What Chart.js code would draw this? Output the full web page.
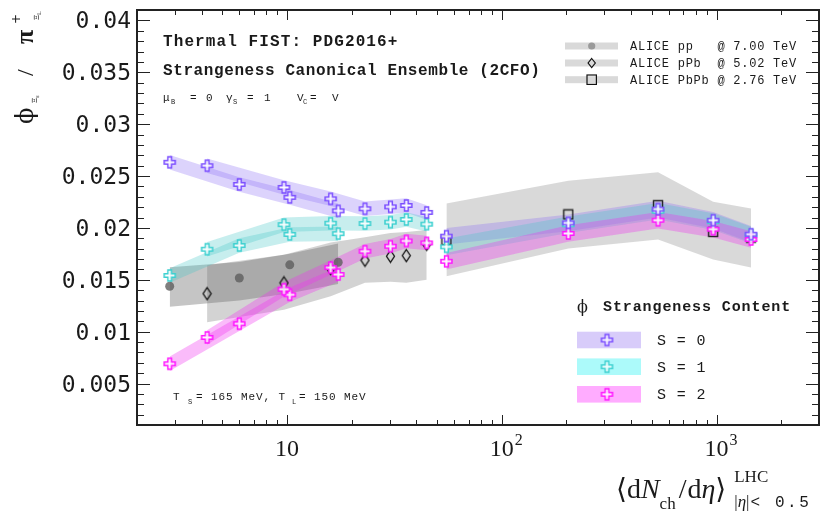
<!DOCTYPE html>
<html>
<head>
<meta charset="utf-8">
<script src="https://cdn.jsdelivr.net/npm/chart.js@4.4.0/dist/chart.umd.min.js"></script>
<style>
html, body { margin: 0; padding: 0; background: #fff; }
#wrap { position: relative; width: 825px; height: 511px; }
</style>
</head>
<body>
<div id="wrap"><canvas id="phiChart" width="825" height="511"></canvas></div>
<script>
// <dNch/deta> of the measured classes
const ppX = [2.84, 5.99, 10.29, 17.3];
const pPbX = [4.24, 9.67, 15.96, 23.05, 30.3, 35.9, 44.7];
const PbPbX = [55.2, 204, 534, 964, 1447];

// ALICE phi/pi data with systematic band
const ppData = [0.01437, 0.01517, 0.01644, 0.01669];
const ppSysLow = [0.0124, 0.0130, 0.0137, 0.0146];
const ppSysHigh = [0.0162, 0.0167, 0.0175, 0.0185];
const pPbData = [0.01366, 0.01470, 0.01608, 0.01688, 0.01727, 0.01733, 0.01842];
const pPbSysLow = [0.0109, 0.0121, 0.0134, 0.0147, 0.0148, 0.0147, 0.0150];
const pPbSysHigh = [0.0164, 0.0174, 0.0186, 0.0191, 0.0195, 0.0196, 0.0198];
const PbPbData = [0.01881, 0.02130, 0.02219, 0.01961, 0.01907];
const PbPbSysLow = [0.01533, 0.01801, 0.01888, 0.01695, 0.01617];
const PbPbSysHigh = [0.02236, 0.02454, 0.02535, 0.02251, 0.02187];

// Thermal-FIST SCE, S = 0
const s0pp = [0.02632, 0.02419, 0.02294, 0.02164];
const s0pPb = [0.02599, 0.02390, 0.02280, 0.02184, 0.02203, 0.02216, 0.02149];
const s0PbPb = [0.0192, 0.02048, 0.02181, 0.02074, 0.01939];
// S = 1
const s1pp = [0.01541, 0.01830, 0.01937, 0.01944];
const s1pPb = [0.01794, 0.02031, 0.02045, 0.02042, 0.02055, 0.02081, 0.02036];
const s1PbPb = [0.01817, 0.0203, 0.0216, 0.0206, 0.0193];
// S = 2
const s2pp = [0.00690, 0.01076, 0.01355, 0.01550];
const s2pPb = [0.00944, 0.01408, 0.01617, 0.01775, 0.01823, 0.01874, 0.01855];
const s2PbPb = [0.01678, 0.01946, 0.02074, 0.01987, 0.01888];
// half width of the model bands
const thErrPp = [0.0007, 0.0007, 0.0007, 0.0007];
const thErrPPb = [0.0007, 0.0007, 0.0007, 0.0007, 0.0007, 0.0007, 0.0007];
const thErrPbPb = [0.0008, 0.0008, 0.0008, 0.0008, 0.0008];

const xMajor = [10, 100, 1000];
const xMajorExp = ['', '2', '3'];
const yLabels = [0.005, 0.01, 0.015, 0.02, 0.025, 0.03, 0.035, 0.04];

const PURPLE = '#7a4dff';
const CYAN = '#3cd0d0';
const MAGENTA = '#ff14ff';

function plusMarker(color, size) {
    const c = document.createElement('canvas');
    const s = size + 4;
    c.width = s; c.height = s;
    const g = c.getContext('2d');
    const o = 2, a = size / 3;
    g.beginPath();
    g.moveTo(o + a, o); g.lineTo(o + 2 * a, o); g.lineTo(o + 2 * a, o + a);
    g.lineTo(o + size, o + a); g.lineTo(o + size, o + 2 * a); g.lineTo(o + 2 * a, o + 2 * a);
    g.lineTo(o + 2 * a, o + size); g.lineTo(o + a, o + size); g.lineTo(o + a, o + 2 * a);
    g.lineTo(o, o + 2 * a); g.lineTo(o, o + a); g.lineTo(o + a, o + a);
    g.closePath();
    g.fillStyle = 'rgba(255,255,255,0.85)';
    g.fill();
    g.strokeStyle = color;
    g.lineWidth = 1.5;
    g.stroke();
    return c;
}

function diamondMarker(w, h) {
    const c = document.createElement('canvas');
    c.width = w + 3; c.height = h + 3;
    const g = c.getContext('2d');
    const cx = c.width / 2, cy = c.height / 2;
    g.beginPath();
    g.moveTo(cx, cy - h / 2); g.lineTo(cx + w / 2, cy); g.lineTo(cx, cy + h / 2); g.lineTo(cx - w / 2, cy);
    g.closePath();
    g.strokeStyle = '#111';
    g.lineWidth = 1.3;
    g.stroke();
    return c;
}

function squareMarker(size) {
    const c = document.createElement('canvas');
    c.width = size + 3; c.height = size + 3;
    const g = c.getContext('2d');
    g.strokeStyle = '#222';
    g.lineWidth = 1.4;
    g.strokeRect(1.5, 1.5, size, size);
    return c;
}

const crossS0 = plusMarker(PURPLE, 11);
const crossS1 = plusMarker(CYAN, 11);
const crossS2 = plusMarker(MAGENTA, 11);
const diamond = diamondMarker(8, 12);
const square = squareMarker(9);

function pts(xs, ys) {
    return xs.map((x, i) => ({ x, y: ys[i] }));
}

function band(xs, lo, hi, color, order) {
    return [
        { data: pts(xs, lo), borderWidth: 0, borderColor: 'rgba(0,0,0,0)', pointRadius: 0, fill: false, order },
        { data: pts(xs, hi), borderWidth: 0, borderColor: 'rgba(0,0,0,0)', pointRadius: 0, fill: '-1', backgroundColor: color, order }
    ];
}

function modelBand(xs, mid, err, color) {
    return band(xs, mid.map((v, i) => v - err[i]), mid.map((v, i) => v + err[i]), color, 20);
}

const BAND_S0 = 'rgba(140,110,245,0.30)';
const BAND_S1 = 'rgba(70,200,200,0.30)';
const BAND_S2 = 'rgba(240,50,240,0.33)';

const datasets = [
    ...band(ppX, ppSysLow, ppSysHigh, 'rgba(110,110,110,0.40)', 30),
    ...band(pPbX, pPbSysLow, pPbSysHigh, 'rgba(110,110,110,0.30)', 30),
    ...band(PbPbX, PbPbSysLow, PbPbSysHigh, 'rgba(110,110,110,0.26)', 30),
    ...modelBand(ppX, s2pp, thErrPp, BAND_S2),
    ...modelBand(pPbX, s2pPb, thErrPPb, BAND_S2),
    ...modelBand(PbPbX, s2PbPb, thErrPbPb, BAND_S2),
    ...modelBand(ppX, s1pp, thErrPp, BAND_S1),
    ...modelBand(pPbX, s1pPb, thErrPPb, BAND_S1),
    ...modelBand(PbPbX, s1PbPb, thErrPbPb, BAND_S1),
    ...modelBand(ppX, s0pp, thErrPp, BAND_S0),
    ...modelBand(pPbX, s0pPb, thErrPPb, BAND_S0),
    ...modelBand(PbPbX, s0PbPb, thErrPbPb, BAND_S0),
    { data: pts(ppX, ppData), showLine: false, pointStyle: 'circle', pointRadius: 4.5,
      pointBackgroundColor: 'rgba(95,95,95,0.8)', pointBorderWidth: 0, order: 3 },
    { data: pts(pPbX, pPbData), showLine: false, pointStyle: diamond, pointRadius: 5, order: 3 },
    { data: pts(PbPbX, PbPbData), showLine: false, pointStyle: square, pointRadius: 5, order: 3 },
    { data: pts([...ppX, ...pPbX, ...PbPbX], [...s2pp, ...s2pPb, ...s2PbPb]), showLine: false, pointStyle: crossS2, pointRadius: 5, order: 2 },
    { data: pts([...ppX, ...pPbX, ...PbPbX], [...s1pp, ...s1pPb, ...s1PbPb]), showLine: false, pointStyle: crossS1, pointRadius: 5, order: 2 },
    { data: pts([...ppX, ...pPbX, ...PbPbX], [...s0pp, ...s0pPb, ...s0PbPb]), showLine: false, pointStyle: crossS0, pointRadius: 5, order: 1 }
];

function txt(ctx, s, x, y, font, spacing) {
    ctx.font = font;
    ctx.letterSpacing = spacing || '0px';
    ctx.fillText(s, x, y);
    const w = ctx.measureText(s).width;
    ctx.letterSpacing = '0px';
    return w;
}

const frame = {
    id: 'frame',
    afterDraw(chart) {
        const { ctx, chartArea: a, scales: { x, y } } = chart;
        ctx.save();
        ctx.strokeStyle = '#222';
        ctx.lineWidth = 1;
        const seg = (x1, y1, x2, y2) => { ctx.beginPath(); ctx.moveTo(x1, y1); ctx.lineTo(x2, y2); ctx.stroke(); };

        // y ticks, both sides
        for (let k = 2; k <= 40; k++) {
            const py = Math.round(y.getPixelForValue(k / 1000)) + 0.5;
            const len = k % 5 === 0 ? 13 : 7;
            seg(a.left, py, a.left + len, py);
            seg(a.right, py, a.right - len, py);
        }
        // x ticks, top and bottom
        for (const dec of [1, 10, 100, 1000]) {
            for (let m = 1; m < 10; m++) {
                const v = dec * m;
                if (v <= 2 || v >= 3000) continue;
                const px = Math.round(x.getPixelForValue(v)) + 0.5;
                const len = m === 1 ? 10 : 5;
                seg(px, a.bottom, px, a.bottom - len);
                seg(px, a.top, px, a.top + len);
            }
        }
        ctx.lineWidth = 2;
        ctx.strokeRect(a.left, a.top, a.right - a.left, a.bottom - a.top);

        ctx.fillStyle = '#1a1a1a';
        // y tick labels
        ctx.textAlign = 'right';
        ctx.textBaseline = 'alphabetic';
        yLabels.forEach(v => {
            const py = y.getPixelForValue(v);
            txt(ctx, String(+v.toFixed(3)), a.left - 6, py + 8, '23px "DejaVu Sans Mono"');
        });
        // x tick labels
        xMajor.forEach((v, i) => {
            const px = x.getPixelForValue(v);
            ctx.textAlign = 'center';
            ctx.font = '24px "Liberation Serif"';
            const w = ctx.measureText('10').width;
            ctx.fillText('10', px, 456);
            if (xMajorExp[i]) {
                ctx.textAlign = 'left';
                txt(ctx, xMajorExp[i], px + w / 2 + 1, 445, '16px "Liberation Serif"');
            }
        });
        ctx.textAlign = 'left';

        // x axis title
        const serif = '"DejaVu Serif", "Liberation Serif"';
        const lib = '"Liberation Serif"';
        let cx = 616;
        cx += txt(ctx, '\u27E8', cx, 498, '28px ' + serif);
        cx += txt(ctx, 'd', cx, 498, '28px ' + lib);
        cx += txt(ctx, 'N', cx, 498, 'italic 28px ' + lib);
        cx += txt(ctx, 'ch', cx, 509, '17px ' + lib) + 3;
        cx += txt(ctx, '/', cx, 498, '28px ' + lib) + 1;
        cx += txt(ctx, 'd', cx, 498, '28px ' + lib);
        cx += txt(ctx, '\u03B7', cx, 498, 'italic 28px ' + lib);
        cx += txt(ctx, '\u27E9', cx, 498, '28px ' + serif) + 8;
        txt(ctx, 'LHC', cx, 482, '17px ' + lib);
        let sx = cx;
        sx += txt(ctx, '|', sx, 507, '17px ' + lib);
        sx += txt(ctx, '\u03B7', sx, 507, 'italic 17px ' + lib);
        sx += txt(ctx, '|', sx, 507, '17px ' + lib);
        txt(ctx, '< 0.5', sx + 1, 507, '16px "Liberation Mono"', '2.6px');

        // y axis title, rotated
        ctx.save();
        ctx.translate(33, 124);
        ctx.rotate(-Math.PI / 2);
        txt(ctx, '\u03D5', 0, 0, '24px ' + serif);
        txt(ctx, '\u039E', 21, 4, '7px ' + serif);
        txt(ctx, 's', 26, 6, '5px ' + serif);
        txt(ctx, '/', 48, 0, '24px ' + lib);
        txt(ctx, '\u03C0', 80, 0, 'bold 26px ' + lib);
        txt(ctx, '+', 100, -13, '12px ' + serif);
        txt(ctx, '\u039E', 104, 6, '7px ' + serif);
        txt(ctx, 'L', 109, 8, '5px ' + serif);
        ctx.restore();

        // header texts
        const mono = '"Liberation Mono"';
        txt(ctx, 'Thermal FIST: PDG2016+', 163, 46, 'bold 16px ' + mono, '1.1px');
        txt(ctx, 'Strangeness Canonical Ensemble (2CFO)', 163, 75, 'bold 16px ' + mono, '0.6px');
        const f11 = '11px ' + mono, f7 = '7px ' + mono;
        txt(ctx, '\u03BC', 163, 101, f11);
        txt(ctx, 'B', 171, 104, f7);
        txt(ctx, '=', 190, 101, f11);
        txt(ctx, '0', 206, 101, f11);
        txt(ctx, '\u03B3', 226, 101, f11);
        txt(ctx, 'S', 233, 104, f7);
        txt(ctx, '=', 247, 101, f11);
        txt(ctx, '1', 264, 101, f11);
        txt(ctx, 'V', 297, 101, f11);
        txt(ctx, 'C', 303, 104, f7);
        txt(ctx, '=', 310, 101, f11);
        txt(ctx, 'V', 332, 101, f11);

        // temperatures
        txt(ctx, 'T', 173, 400, f11);
        txt(ctx, 'S', 188, 404, f7);
        txt(ctx, '= 165 MeV, T', 196, 400, f11, '0.9px');
        txt(ctx, 'L', 292, 404, f7);
        txt(ctx, '= 150 MeV', 299, 400, f11, '0.9px');

        // ALICE legend
        const rows = [46, 63, 79.7];
        rows.forEach(ry => {
            ctx.fillStyle = '#d9d9d9';
            ctx.fillRect(565, ry - 3.5, 53, 7);
        });
        ctx.fillStyle = '#9a9a9a';
        ctx.beginPath(); ctx.arc(591.7, rows[0], 3.6, 0, Math.PI * 2); ctx.fill();
        ctx.strokeStyle = '#111'; ctx.lineWidth = 1.2;
        ctx.beginPath();
        ctx.moveTo(591.7, rows[1] - 4.5); ctx.lineTo(595.3, rows[1]); ctx.lineTo(591.7, rows[1] + 4.5); ctx.lineTo(588.1, rows[1]);
        ctx.closePath(); ctx.stroke();
        ctx.strokeRect(587, rows[2] - 4.7, 9.4, 9.4);
        ctx.fillStyle = '#1a1a1a';
        const f12 = '12px ' + mono;
        txt(ctx, 'ALICE pp   @ 7.00 TeV', 630, rows[0] + 4, f12, '0.75px');
        txt(ctx, 'ALICE pPb  @ 5.02 TeV', 630, rows[1] + 4, f12, '0.75px');
        txt(ctx, 'ALICE PbPb @ 2.76 TeV', 630, rows[2] + 4, f12, '0.75px');

        // strangeness content legend
        txt(ctx, '\u03D5', 577, 312, '16px ' + serif);
        txt(ctx, 'Strangeness Content', 603, 311, 'bold 15px ' + mono, '0.9px');
        const boxes = [[340, 'rgb(216,204,250)', crossS0, 'S = 0'],
                       [366.7, 'rgb(172,250,250)', crossS1, 'S = 1'],
                       [394.3, 'rgb(255,172,255)', crossS2, 'S = 2']];
        boxes.forEach(([by, col, img, label]) => {
            ctx.fillStyle = col;
            ctx.fillRect(577, by - 8.3, 64, 16.6);
            ctx.drawImage(img, 607 - img.width / 2, by - img.height / 2);
            ctx.fillStyle = '#1a1a1a';
            txt(ctx, label, 657, by + 5, '15px ' + mono, '0.9px');
        });
        ctx.restore();
    }
};

new Chart(document.getElementById('phiChart').getContext('2d'), {
    type: 'line',
    data: { datasets },
    options: {
        responsive: false,
        animation: false,
        layout: { padding: { top: 10, right: 2, left: 0, bottom: 0 } },
        elements: { line: { tension: 0 } },
        plugins: { legend: { display: false }, tooltip: { enabled: false } },
        scales: {
            x: {
                type: 'logarithmic',
                min: 2,
                max: 3000,
                grid: { display: false },
                border: { display: false },
                ticks: { display: false },
                afterFit: s => { s.height = 86; }
            },
            y: {
                type: 'linear',
                min: 0.001,
                max: 0.041,
                grid: { display: false },
                border: { display: false },
                ticks: { display: false },
                afterFit: s => { s.width = 137; }
            }
        }
    },
    plugins: [frame]
});
</script>
</body>
</html>
